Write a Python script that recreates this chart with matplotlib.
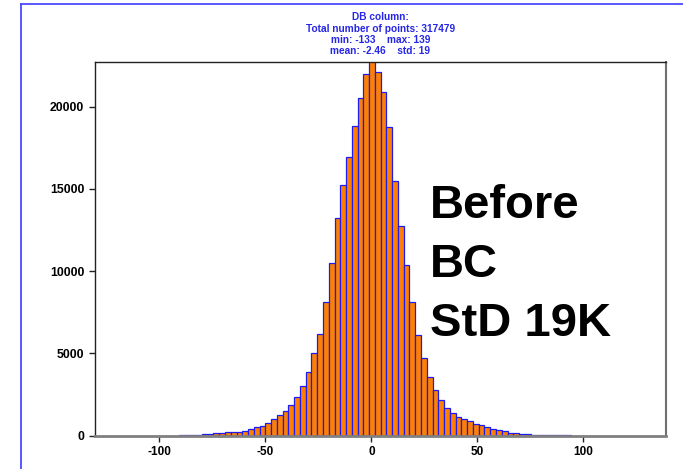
import matplotlib
matplotlib.use('Agg')
import matplotlib.pyplot as plt
import numpy as np
from matplotlib.lines import Line2D

# ---- data ----
bin_start = -90.8
bin_width = 2.72
counts = [25, 30, 40, 50, 100, 105, 160, 165, 200, 210, 245, 304, 395, 511,
          600, 760, 1020, 1240, 1483, 1857, 2350, 3030, 3854, 5009, 6164,
          8109, 10480, 13234, 15240, 16942, 18809, 20547, 21970, 23200,
          22091, 20912, 18766, 15465, 12729, 10377, 8109, 6150, 4705, 3587,
          2760, 2152, 1684, 1362, 1155, 997, 875, 729, 632, 547, 407, 328,
          267, 164, 164, 85, 85, 43, 40, 35, 30, 25, 20, 15]
x_ticks = [-100, -50, 0, 50, 100]
y_ticks = [0, 5000, 10000, 15000, 20000]
title_lines = ["DB column:",
               "Total number of points: 317479",
               "min: -133    max: 139",
               "mean: -2.46    std: 19"]
big_text = ["Before", "BC", "StD 19K"]

plt.rcParams['font.family'] = ['Liberation Sans', 'DejaVu Sans']

W, H = 683, 469
fig = plt.figure(figsize=(W / 100, H / 100), dpi=100)
fig.patch.set_facecolor('white')

ax_l, ax_r, ax_t, ax_b = 94.7, 666.0, 62.0, 435.7
ax = fig.add_axes([ax_l / W, 1 - ax_b / H, (ax_r - ax_l) / W, (ax_b - ax_t) / H])

lefts = bin_start + bin_width * np.arange(len(counts))
ax.bar(lefts, counts, width=bin_width, align='edge', color='#FF8000',
       edgecolor='#1c1cf0', linewidth=0.9)

ax.set_xlim(-130.5, 139.0)
ax.set_ylim(0, 22717)
ax.set_xticks(x_ticks)
ax.set_yticks(y_ticks)
ax.set_xticklabels([str(v) for v in x_ticks], fontsize=8.5, fontweight='bold')
ax.set_yticklabels([str(v) for v in y_ticks], fontsize=8.8, fontweight='bold')
ax.tick_params(direction='out', length=4.5, width=1, color='#222222', pad=3)

for s in ['top', 'left']:
    ax.spines[s].set_color('#222222')
    ax.spines[s].set_linewidth(1.0)
ax.spines['right'].set_color('#707070')
ax.spines['right'].set_linewidth(1.5)
ax.spines['bottom'].set_color('#808080')
ax.spines['bottom'].set_linewidth(2.0)
for s in ax.spines.values():
    s.set_zorder(5)

# title
cx = (ax_l + ax_r) / 2 / W
title_y = [16.6, 29.0, 40.3, 51.4]
for line, yy in zip(title_lines, title_y):
    fig.text(cx, 1 - yy / H, line, ha='center', va='center', fontsize=7.3,
             fontweight='bold', color='#2626E6')

# big annotation
base_y = [218, 277, 336]
for line, yy in zip(big_text, base_y):
    fig.text(430 / W, 1 - yy / H, line, ha='left', va='baseline', fontsize=34,
             fontweight='bold', color='black')

# blue frame lines
fx = 20.5 / W
fy = 1 - 4 / H
fig.add_artist(Line2D([fx, fx], [0, fy], color='#4a4aff', lw=1.3))
fig.add_artist(Line2D([fx, 1], [fy, fy], color='#4a4aff', lw=1.3))

fig.savefig('out.png', dpi=100, facecolor='white')
